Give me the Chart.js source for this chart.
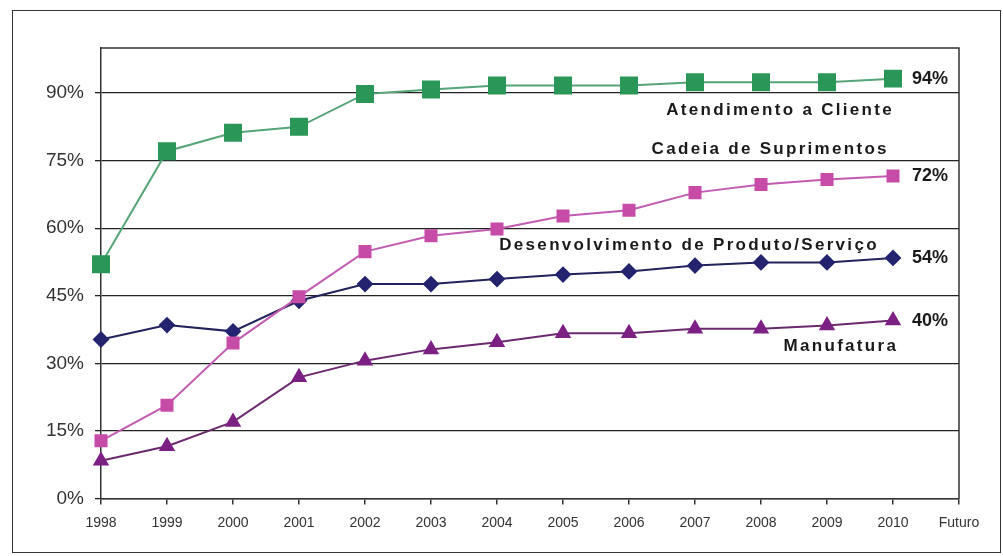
<!DOCTYPE html>
<html>
<head>
<meta charset="utf-8">
<script src="https://cdn.jsdelivr.net/npm/chart.js@4/dist/chart.umd.min.js"></script>
<style>
  body { margin: 0; background: #fff; }
  #wrap { position: relative; width: 1003px; height: 556px; }
  #frame { position: absolute; left: 12px; top: 10px; width: 987px; height: 541px; border: 1.5px solid #333; }
  #myChart { position: absolute; left: 0; top: 0; }
</style>
</head>
<body>
<div id="wrap">
  <div id="frame"></div>
  <canvas id="myChart" width="1003" height="556"></canvas>
</div>
<script>
// Categories (Futuro has no data)
const years = ['1998', '1999', '2000', '2001', '2002', '2003', '2004', '2005', '2006', '2007', '2008', '2009', '2010', 'Futuro'];

// Values, in %
const atendimento = [52, 77.1, 81.2, 82.5, 89.8, 90.8, 91.7, 91.7, 91.7, 92.4, 92.4, 92.4, 93.2];
const cadeia = [12.8, 20.7, 34.5, 44.8, 54.8, 58.3, 59.8, 62.7, 64, 67.9, 69.7, 70.8, 71.6];
const desenvolvimento = [35.3, 38.5, 37.1, 43.9, 47.6, 47.6, 48.7, 49.7, 50.4, 51.7, 52.4, 52.4, 53.4];
const manufatura = [8.4, 11.6, 17, 26.9, 30.6, 33.1, 34.7, 36.7, 36.7, 37.7, 37.7, 38.4, 39.5];

// Text shown next to the lines
const seriesNames = ['Atendimento a Cliente', 'Cadeia de Suprimentos', 'Desenvolvimento de Produto/Serviço', 'Manufatura'];
const endLabels = ['94%', '72%', '54%', '40%'];

// where each series name sits (category index, value)
const nameAtX = [10.29, 10.14, 8.91, 11.21];
const nameAtY = [86.1, 77.5, 56.3, 33.7];

const fontFamily = 'Arial, "Liberation Sans", sans-serif';

// plot frame (top and right edges)
const framePlugin = {
    id: 'framePlugin',
    beforeDatasetsDraw(chart) {
        const { ctx, chartArea } = chart;
        ctx.save();
        ctx.strokeStyle = '#333';
        ctx.lineWidth = 1.5;
        ctx.beginPath();
        ctx.moveTo(chartArea.left, chartArea.top);
        ctx.lineTo(chartArea.right, chartArea.top);
        ctx.lineTo(chartArea.right, chartArea.bottom);
        ctx.stroke();
        ctx.restore();
    }
};

// series names and end values
const labelPlugin = {
    id: 'labelPlugin',
    afterDatasetsDraw(chart) {
        const { ctx, scales } = chart;
        ctx.save();
        ctx.fillStyle = '#1a1a1a';
        ctx.textBaseline = 'middle';

        ctx.font = 'bold 17px ' + fontFamily;
        ctx.textAlign = 'center';
        ctx.letterSpacing = '2.3px';
        seriesNames.forEach((name, i) => {
            ctx.fillText(name, scales.x.getPixelForValue(nameAtX[i]), scales.y.getPixelForValue(nameAtY[i]));
        });

        ctx.font = 'bold 18px ' + fontFamily;
        ctx.textAlign = 'left';
        ctx.letterSpacing = '0px';
        chart.data.datasets.forEach((ds, i) => {
            const last = ds.data.length - 1;
            const x = scales.x.getPixelForValue(last) + 19;
            const y = scales.y.getPixelForValue(ds.data[last]);
            ctx.fillText(endLabels[i], x, y);
        });
        ctx.restore();
    }
};

const ctx = document.getElementById('myChart').getContext('2d');

const chart = new Chart(ctx, {
    type: 'line',
    data: {
        labels: years,
        datasets: [
            {
                label: seriesNames[0],
                data: atendimento,
                borderColor: '#56a577',
                backgroundColor: '#2a9657',
                pointBorderColor: '#2a9657',
                borderWidth: 2,
                pointStyle: 'rect',
                pointRadius: 11.3
            },
            {
                label: seriesNames[1],
                data: cadeia,
                borderColor: '#c25cb0',
                backgroundColor: '#c64ca8',
                pointBorderColor: '#c64ca8',
                borderWidth: 2,
                pointStyle: 'rect',
                pointRadius: 7.8
            },
            {
                label: seriesNames[2],
                data: desenvolvimento,
                borderColor: '#22225c',
                backgroundColor: '#23236f',
                pointBorderColor: '#23236f',
                borderWidth: 2,
                pointStyle: 'rectRot',
                pointRadius: 7
            },
            {
                label: seriesNames[3],
                data: manufatura,
                borderColor: '#6c2a6e',
                backgroundColor: '#7c2183',
                pointBorderColor: '#7c2183',
                borderWidth: 2,
                pointStyle: 'triangle',
                pointRadius: 7.5
            }
        ]
    },
    options: {
        responsive: false,
        animation: false,
        events: [],
        layout: {
            padding: { top: 48, right: 44, left: 0, bottom: 0 }
        },
        plugins: {
            legend: { display: false },
            tooltip: { enabled: false }
        },
        scales: {
            x: {
                offset: false,
                grid: {
                    drawOnChartArea: false,
                    color: '#333',
                    lineWidth: 1.5,
                    tickLength: 6
                },
                border: { color: '#333', width: 1.5 },
                ticks: {
                    color: '#333',
                    font: { family: fontFamily, size: 14 },
                    maxRotation: 0,
                    autoSkip: false,
                    padding: 10
                },
                afterFit: function (scale) {
                    scale.height = 57.5;
                }
            },
            y: {
                min: 0,
                max: 100,
                grid: {
                    color: '#222',
                    lineWidth: 1.3,
                    tickLength: 6
                },
                border: { color: '#333', width: 1.5 },
                ticks: {
                    stepSize: 15,
                    color: '#333',
                    padding: 11,
                    font: { family: fontFamily, size: 19 },
                    callback: function (value) {
                        return value + '%';
                    }
                },
                afterBuildTicks: function (scale) {
                    scale.ticks = scale.ticks.filter(t => t.value % 15 === 0);
                },
                afterFit: function (scale) {
                    scale.width = 101;
                }
            }
        }
    },
    plugins: [framePlugin, labelPlugin]
});
</script>
</body>
</html>
